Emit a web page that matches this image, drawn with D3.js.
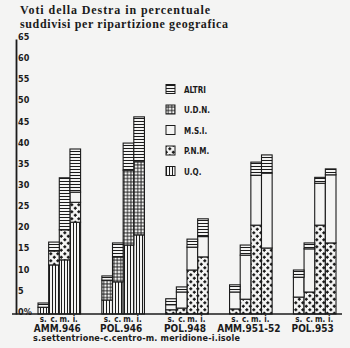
<!DOCTYPE html>
<html>
<head>
<meta charset="utf-8">
<script src="https://cdn.jsdelivr.net/npm/d3@7"></script>
<style>
  html, body { margin: 0; padding: 0; background: #f4f4f3; }
  svg { display: block; }
</style>
</head>
<body>
<svg id="chart" width="350" height="348"></svg>
<script>
// Election results (percent) by party, election and geographic area
const groups = ["AMM.946", "POL.946", "POL.948", "AMM.951-52", "POL.953"];
const regions = ["s", "c", "m", "i"];
const regionLabels = ["s.", "c.", "m.", "i."];
const yTicks = [0, 5, 10, 15, 20, 25, 30, 35, 40, 45, 50, 55, 60, 65];

// one row per election, one value per area (s, c, m, i)
const uq    = [[1.6, 11.6, 12.8, 21.7], [3.3, 7.6, 16.3, 18.7], [0, 0, 0, 0], [0, 0, 0, 0], [0, 0, 0, 0]];
const udn   = [[0, 0, 0, 0], [4.7, 5.9, 17.7, 17.3], [0, 0, 0, 0], [0, 0, 0, 0], [0, 0, 0, 0]];
const pnm   = [[0, 3.3, 7.1, 4.7], [0, 0, 0, 0], [1.0, 1.4, 10.4, 13.5], [1.2, 3.5, 21.0, 15.6], [4.0, 5.2, 21.0, 16.8]];
const msi   = [[0, 0, 0, 2.4], [0, 0, 0, 0], [1.2, 3.8, 5.4, 4.8], [4.0, 10.4, 11.8, 17.7], [4.7, 10.2, 9.9, 16.1]];
const altri = [[1.0, 2.1, 12.3, 10.2], [1.0, 3.3, 6.4, 10.6], [1.4, 1.2, 1.9, 4.2], [1.7, 2.4, 3.1, 4.3], [1.7, 1.4, 1.4, 1.4]];

const stackKeys = ["uq", "udn", "pnm", "msi", "altri"];          // bottom to top
const legendKeys = ["altri", "udn", "msi", "pnm", "uq"];          // legend, top to bottom
const legendNames = { altri: "ALTRI", udn: "U.D.N.", msi: "M.S.I.", pnm: "P.N.M.", uq: "U.Q." };

const rows = [];
groups.forEach((g, gi) => regions.forEach((r, ri) => rows.push({
  group: g, region: r,
  uq: uq[gi][ri], udn: udn[gi][ri], pnm: pnm[gi][ri], msi: msi[gi][ri], altri: altri[gi][ri]
})));

const ink = "#1b1b1b";
const paper = "#f4f4f3";
const condensed = "'DejaVu Sans Condensed', 'Liberation Sans Narrow', sans-serif";

const svg = d3.select("#chart");
const defs = svg.append("defs");

// hatch patterns for each party
function pattern(id, w, h, draw) {
  const p = defs.append("pattern").attr("id", id)
    .attr("patternUnits", "userSpaceOnUse").attr("width", w).attr("height", h);
  p.append("rect").attr("width", w).attr("height", h).attr("fill", paper);
  draw(p);
}
pattern("p-altri", 4, 3, p => p.append("line").attr("x1", 0).attr("x2", 4).attr("y1", 1.5).attr("y2", 1.5)
  .attr("stroke", ink).attr("stroke-width", 1));
pattern("p-uq", 3, 4, p => p.append("line").attr("x1", 1.5).attr("x2", 1.5).attr("y1", 0).attr("y2", 4)
  .attr("stroke", ink).attr("stroke-width", 1));
pattern("p-udn", 3.4, 3.4, p => {
  p.append("line").attr("x1", 0).attr("x2", 3.4).attr("y1", 1.7).attr("y2", 1.7).attr("stroke", ink).attr("stroke-width", 0.9);
  p.append("line").attr("x1", 1.7).attr("x2", 1.7).attr("y1", 0).attr("y2", 3.4).attr("stroke", ink).attr("stroke-width", 0.9);
});
pattern("p-msi", 4, 4, () => {});
pattern("p-pnm", 7, 7, p => {
  const plus = (cx, cy) => p.append("path")
    .attr("d", `M${cx - 1.5},${cy}H${cx + 1.5}M${cx},${cy - 1.5}V${cy + 1.5}`)
    .attr("stroke", ink).attr("stroke-width", 1.4);
  plus(1.8, 1.8); plus(5.3, 5.3);
});

// scales
const x0 = d3.scaleBand().domain(groups).range([38, 336]).paddingInner(0.333).paddingOuter(0);
const x1 = d3.scaleBand().domain(regions).range([0, x0.bandwidth()]).padding(0);
const y = d3.scaleLinear().domain([0, 65]).range([314, 39]);

// title
const title = svg.append("g").attr("font-family", "'Liberation Serif', 'DejaVu Serif', serif")
  .attr("font-weight", "bold").attr("font-size", 12).attr("fill", ink);
title.append("text").attr("x", 20).attr("y", 14).attr("textLength", 190).attr("lengthAdjust", "spacing")
  .text("Voti della Destra in percentuale");
title.append("text").attr("x", 20).attr("y", 28).attr("textLength", 208).attr("lengthAdjust", "spacing")
  .text("suddivisi per ripartizione geografica");

// stacked bars
const stacked = d3.stack().keys(stackKeys)(rows);
const gBars = svg.append("g");
stacked.forEach(layer => {
  gBars.selectAll(null)
    .data(layer.filter(d => d[1] - d[0] > 0))
    .join("rect")
    .attr("x", d => x0(d.data.group) + x1(d.data.region))
    .attr("y", d => y(d[1]))
    .attr("width", x1.bandwidth())
    .attr("height", d => y(d[0]) - y(d[1]))
    .attr("fill", `url(#p-${layer.key})`)
    .attr("stroke", ink)
    .attr("stroke-width", 1.1);
});

// y axis with labels right of the line
const yAxis = d3.axisRight(y).tickValues(yTicks).tickSize(0).tickPadding(2)
  .tickFormat(d => d === 0 ? "0%" : d);
const ga = svg.append("g").attr("transform", "translate(16,0)").call(yAxis);
ga.select(".domain").attr("stroke", ink).attr("stroke-width", 1.8);
ga.selectAll("text").attr("dy", "0.05em").attr("font-family", condensed)
  .attr("font-weight", "bold").attr("font-size", 9).attr("fill", ink);

// baseline
svg.append("line").attr("x1", 12).attr("x2", 342).attr("y1", y(0)).attr("y2", y(0))
  .attr("stroke", ink).attr("stroke-width", 1.6);

// area letters under each bar and election names under each group
const gx = svg.append("g").attr("font-family", condensed).attr("font-weight", "bold").attr("fill", ink);
groups.forEach(g => {
  regions.forEach((r, ri) => {
    gx.append("text").attr("x", x0(g) + x1(r) + x1.bandwidth() / 2).attr("y", 322)
      .attr("text-anchor", "middle").attr("font-size", 8).text(regionLabels[ri]);
  });
  gx.append("text").attr("x", x0(g) + x0.bandwidth() / 2 - 2).attr("y", 332)
    .attr("text-anchor", "middle").attr("font-size", 10).text(g);
});
gx.append("text").attr("x", 33).attr("y", 341).attr("font-size", 9)
  .attr("textLength", 207).attr("lengthAdjust", "spacing")
  .text("s.settentrione-c.centro-m. meridione-i.isole");

// legend
const legendY = d3.scalePoint().domain(legendKeys).range([89, 171]);
const gl = svg.append("g");
legendKeys.forEach(k => {
  gl.append("rect").attr("x", 166).attr("y", legendY(k) - 4.5).attr("width", 9).attr("height", 9)
    .attr("fill", `url(#p-${k})`).attr("stroke", ink).attr("stroke-width", 1);
  gl.append("text").attr("x", 184).attr("y", legendY(k) + 3.5)
    .attr("font-family", condensed).attr("font-weight", "bold").attr("font-size", 8)
    .attr("fill", ink).text(legendNames[k]);
});
</script>
</body>
</html>
